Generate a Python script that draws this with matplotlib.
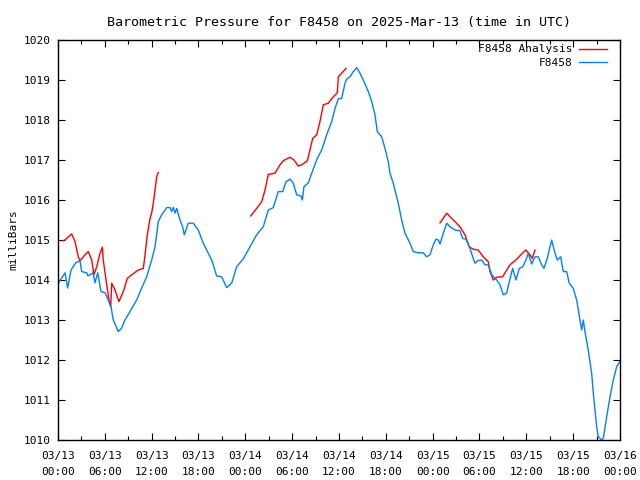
import matplotlib
matplotlib.use("Agg")
import matplotlib.pyplot as plt
import matplotlib.dates as mdates
import pandas as pd

START = pd.Timestamp("2025-03-13 00:00")

# F8458 observed pressure (hours after 03/13 00:00 UTC, mb)
obs_hours = [
    0.04, 0.90, 1.24, 1.67, 2.27, 2.82, 3.04, 3.68, 3.84, 4.48, 4.74, 5.09, 5.51, 6.02,
    6.44, 6.79, 7.08, 7.72, 8.16, 8.58, 9.22, 10.08, 10.72, 11.36, 12.00, 12.43, 12.68,
    12.85, 13.28, 13.93, 14.35, 14.57, 14.77, 14.99, 15.21, 15.63, 15.97, 16.18, 16.69,
    17.33, 17.97, 18.61, 19.05, 19.69, 20.33, 20.97, 21.61, 22.25, 22.89, 23.74, 24.60,
    25.45, 26.30, 26.94, 27.58, 28.22, 28.79, 29.21, 29.72, 30.14, 30.58, 31.13, 31.30,
    31.51, 32.07, 32.71, 33.22, 33.78, 34.42, 35.06, 35.49, 35.91, 36.34, 36.77, 36.98,
    37.41, 37.83, 38.27, 38.69, 39.11, 39.75, 40.19, 40.61, 40.90, 41.47, 41.89, 42.31,
    42.53, 42.95, 43.17, 43.59, 44.03, 44.45, 45.09, 45.52, 46.16, 46.80, 47.23, 47.66,
    48.08, 48.42, 48.72, 48.94, 49.36, 49.80, 50.22, 50.86, 51.50, 51.84, 52.27, 52.78,
    53.20, 53.42, 53.84, 54.28, 54.70, 55.12, 55.56, 56.20, 56.62, 57.05, 57.48, 57.82,
    58.25, 58.67, 59.10, 59.53, 59.95, 60.25, 60.68, 61.11, 61.53, 61.97, 62.26, 62.68,
    63.03, 63.25, 63.67, 63.97, 64.40, 64.73, 65.17, 65.50, 66.01, 66.45, 66.87, 67.09,
    67.30, 67.51, 67.93, 68.37, 68.58, 69.01, 69.22, 69.65, 69.86, 70.29, 70.72, 71.14,
    71.57, 71.93,
]
obs_mb = [
    1013.92, 1014.18, 1013.80, 1014.25, 1014.43, 1014.48, 1014.21, 1014.18, 1014.10,
    1014.18, 1013.93, 1014.18, 1013.71, 1013.68, 1013.50, 1013.33, 1013.00, 1012.71,
    1012.80, 1013.00, 1013.21, 1013.50, 1013.80, 1014.08, 1014.50, 1014.83, 1015.21,
    1015.46, 1015.63, 1015.81, 1015.81, 1015.71, 1015.82, 1015.67, 1015.79, 1015.50,
    1015.33, 1015.13, 1015.42, 1015.42, 1015.25, 1014.92, 1014.75, 1014.50, 1014.10,
    1014.08, 1013.81, 1013.92, 1014.33, 1014.53, 1014.83, 1015.13, 1015.33, 1015.75,
    1015.81, 1016.21, 1016.21, 1016.46, 1016.52, 1016.42, 1016.13, 1016.10, 1016.00,
    1016.33, 1016.43, 1016.78, 1017.04, 1017.25, 1017.63, 1017.96, 1018.29, 1018.53,
    1018.54, 1018.92, 1019.02, 1019.08, 1019.21, 1019.31, 1019.17, 1019.00, 1018.71,
    1018.46, 1018.13, 1017.71, 1017.58, 1017.29, 1016.96, 1016.67, 1016.42, 1016.25,
    1015.92, 1015.50, 1015.17, 1014.92, 1014.71, 1014.68, 1014.68, 1014.58, 1014.63,
    1014.88, 1015.02, 1015.00, 1014.90, 1015.17, 1015.42, 1015.33, 1015.25, 1015.23,
    1015.04, 1015.02, 1014.79, 1014.54, 1014.42, 1014.49, 1014.50, 1014.38, 1014.38,
    1014.13, 1014.00, 1013.88, 1013.63, 1013.67, 1013.96, 1014.29, 1014.00, 1014.29,
    1014.33, 1014.50, 1014.67, 1014.40, 1014.58, 1014.58, 1014.38, 1014.29, 1014.54,
    1014.83, 1015.00, 1014.67, 1014.50, 1014.58, 1014.21, 1014.21, 1013.92, 1013.79,
    1013.50, 1013.00, 1012.75, 1013.00, 1012.71, 1012.25, 1011.67, 1011.17, 1010.33,
    1010.08, 1010.00, 1010.04, 1010.58, 1011.08, 1011.50, 1011.83, 1011.95,
]

# F8458 analysis, three separate runs
ana1_hours = [
    0.60, 0.90, 1.32, 1.76, 2.18, 2.60, 2.82, 3.46, 3.88, 4.32, 4.61, 4.96, 5.38, 5.68,
    5.80, 6.24, 6.53, 6.75, 6.88, 7.30, 7.81, 8.37, 8.88, 9.44, 10.29, 10.93, 11.15,
    11.44, 11.79, 12.00, 12.21, 12.43, 12.64, 12.85,
]
ana1_mb = [
    1014.98, 1015.00, 1015.08, 1015.15, 1014.96, 1014.58, 1014.48, 1014.63, 1014.71,
    1014.50, 1014.13, 1014.33, 1014.67, 1014.82, 1014.50, 1013.88, 1013.50, 1013.33,
    1013.92, 1013.75, 1013.46, 1013.71, 1014.04, 1014.13, 1014.25, 1014.29, 1014.63,
    1015.13, 1015.54, 1015.68, 1015.92, 1016.25, 1016.58, 1016.69,
]
ana2_hours = [
    24.69, 25.45, 26.10, 26.52, 26.94, 27.80, 28.44, 28.86, 29.72, 30.23, 30.78, 31.22,
    31.94, 32.28, 32.63, 33.14, 33.56, 33.99, 34.63, 35.27, 35.78, 35.91, 36.34, 36.89,
]
ana2_mb = [
    1015.60, 1015.79, 1015.96, 1016.25, 1016.64, 1016.67, 1016.88, 1016.98, 1017.07,
    1017.00, 1016.85, 1016.88, 1016.98, 1017.25, 1017.54, 1017.63, 1017.96, 1018.38,
    1018.42, 1018.58, 1018.68, 1019.08, 1019.17, 1019.29,
]
ana3_hours = [
    48.94, 49.80, 50.44, 50.86, 51.50, 52.14, 52.69, 53.20, 53.84, 54.48, 55.12, 55.34,
    55.77, 56.20, 56.97, 57.48, 57.91, 58.76, 59.40, 59.95, 60.47, 60.76, 61.11,
]
ana3_mb = [
    1015.43, 1015.67, 1015.54, 1015.46, 1015.33, 1015.13, 1014.83, 1014.77, 1014.75,
    1014.58, 1014.46, 1014.21, 1014.00, 1014.07, 1014.08, 1014.25, 1014.38, 1014.52,
    1014.65, 1014.75, 1014.63, 1014.54, 1014.75,
]

RED = "#ff0000"
BLUE = "#0080ff"
FONT = "DejaVu Sans Mono"


def to_time(hours):
    return START + pd.to_timedelta(hours, unit="h")


def main() -> None:
    plt.rcParams["font.family"] = FONT
    plt.rcParams["font.size"] = 8

    fig = plt.figure(figsize=(6.4, 4.8), dpi=100)
    ax = fig.add_axes([58 / 640, 40 / 480, 562 / 640, 400 / 480])

    for i, (h, v) in enumerate([(ana1_hours, ana1_mb), (ana2_hours, ana2_mb), (ana3_hours, ana3_mb)]):
        ax.plot(to_time(h), v, color=RED, lw=1, label="F8458 Analysis" if i == 0 else None)
    ax.plot(to_time(obs_hours), obs_mb, color=BLUE, lw=1, label="F8458")

    ax.set_xlim(START, START + pd.Timedelta(hours=72))
    ax.set_ylim(1010, 1020)
    ax.set_yticks(range(1010, 1021))

    ax.xaxis.set_major_locator(mdates.HourLocator(byhour=[0, 6, 12, 18]))
    ax.xaxis.set_minor_locator(mdates.HourLocator(byhour=[3, 9, 15, 21]))
    ax.xaxis.set_major_formatter(mdates.DateFormatter("%m/%d\n%H:%M"))
    for lbl in ax.get_xticklabels():
        lbl.set_linespacing(1.75)

    ax.tick_params(which="both", direction="in", top=True, right=True, colors="black")
    ax.tick_params(which="major", length=5, width=0.8, pad=8)
    ax.tick_params(which="minor", length=3, width=0.8)
    ax.tick_params(axis="y", pad=5)
    for s in ax.spines.values():
        s.set_linewidth(1)

    ax.set_ylabel("milliBars", labelpad=4)
    ax.set_title("Barometric Pressure for F8458 on 2025-Mar-13 (time in UTC)", pad=10)

    ax.legend(loc="upper right", frameon=False, markerfirst=False, handlelength=2.5,
              handletextpad=0.6, labelspacing=0.3, borderaxespad=0.2, borderpad=0.2,
              bbox_to_anchor=(0.985, 1.0))

    fig.savefig("out.png", dpi=100)
    plt.close(fig)


if __name__ == "__main__":
    main()
